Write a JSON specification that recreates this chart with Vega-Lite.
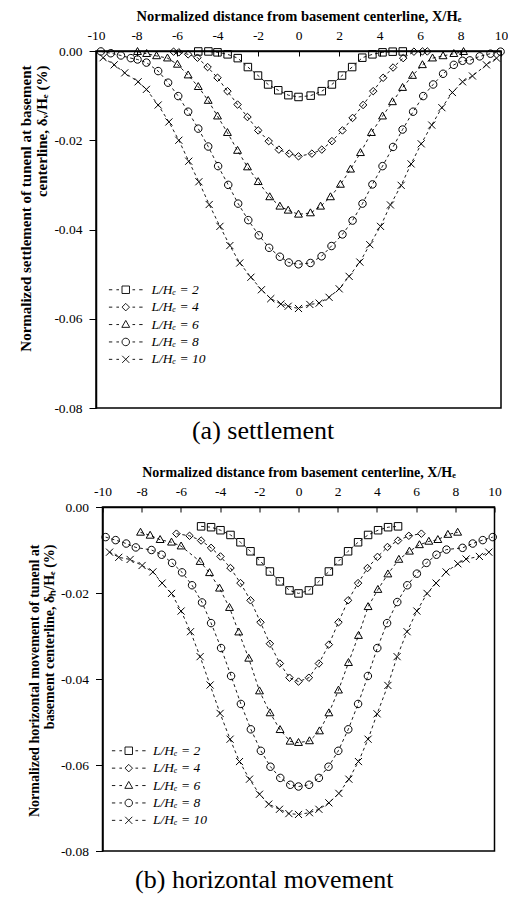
{
  "$schema": "https://vega.github.io/schema/vega-lite/v6.json",
  "background": "white",
  "padding": {"left": 17, "top": 7, "right": 0, "bottom": 0},
  "config": {
    "font": "Liberation Serif",
    "view": {"stroke": "black", "strokeWidth": 1.5},
    "axis": {"grid": false, "domainColor": "black", "domainWidth": 1.5, "tickColor": "black", "tickWidth": 1, "labelColor": "black", "titleColor": "black", "labelFont": "Liberation Serif", "titleFont": "Liberation Serif", "labelFontSize": 13.5, "titleFontSize": 13, "titleFontWeight": "bold"},
    "title": {"font": "Liberation Serif", "fontSize": 26, "fontWeight": "normal", "color": "black"}
  },
  "bounds": "flush",
  "center": true,
  "spacing": 99,
  "resolve": {"scale": {"x": "independent", "y": "independent", "shape": "independent"}, "legend": {"shape": "independent"}},
  "vconcat": [
    {
      "width": 405,
      "height": 357,
      "title": {"text": "(a) settlement", "orient": "bottom", "anchor": "middle", "frame": "bounds", "offset": 3},
      "data": {"values": [
        {"s":"2","x":-4.95,"y":-0.0001},{"s":"2","x":-4.45,"y":-0.0001},{"s":"2","x":-4.0,"y":-0.0003},{"s":"2","x":-3.5,"y":-0.00075},{"s":"2","x":-3.0,"y":-0.0016},{"s":"2","x":-2.5,"y":-0.0036},{"s":"2","x":-2.0,"y":-0.0055},{"s":"2","x":-1.5,"y":-0.0075},{"s":"2","x":-1.0,"y":-0.0088},{"s":"2","x":-0.5,"y":-0.0099},{"s":"2","x":0,"y":-0.0103},{"s":"2","x":0.6,"y":-0.01},{"s":"2","x":1.15,"y":-0.009},{"s":"2","x":1.65,"y":-0.0075},{"s":"2","x":2.15,"y":-0.0055},{"s":"2","x":2.65,"y":-0.0036},{"s":"2","x":3.15,"y":-0.0015},{"s":"2","x":3.65,"y":-0.00075},{"s":"2","x":4.15,"y":-0.0003},{"s":"2","x":4.65,"y":-0.00015},{"s":"2","x":5.15,"y":-0.0001},
        {"s":"4","x":-6.17,"y":-0.00015},{"s":"4","x":-5.91,"y":-0.0003},{"s":"4","x":-5.45,"y":-0.00075},{"s":"4","x":-4.99,"y":-0.0015},{"s":"4","x":-4.49,"y":-0.0036},{"s":"4","x":-4.0,"y":-0.006},{"s":"4","x":-3.51,"y":-0.009},{"s":"4","x":-3.01,"y":-0.012},{"s":"4","x":-2.52,"y":-0.0148},{"s":"4","x":-1.99,"y":-0.0178},{"s":"4","x":-1.47,"y":-0.0202},{"s":"4","x":-0.97,"y":-0.0221},{"s":"4","x":-0.46,"y":-0.023},{"s":"4","x":0,"y":-0.0236},{"s":"4","x":0.66,"y":-0.023},{"s":"4","x":1.15,"y":-0.0221},{"s":"4","x":1.65,"y":-0.0202},{"s":"4","x":2.17,"y":-0.0178},{"s":"4","x":2.67,"y":-0.015},{"s":"4","x":3.19,"y":-0.0121},{"s":"4","x":3.69,"y":-0.009},{"s":"4","x":4.18,"y":-0.006},{"s":"4","x":4.67,"y":-0.0037},{"s":"4","x":5.17,"y":-0.0016},{"s":"4","x":5.7,"y":-0.00015},{"s":"4","x":6.12,"y":-0.0001},{"s":"4","x":6.36,"y":-0.0001},
        {"s":"6","x":-7.95,"y":-0.00015},{"s":"6","x":-7.5,"y":-0.0006},{"s":"6","x":-7.01,"y":-0.0011},{"s":"6","x":-6.47,"y":-0.0016},{"s":"6","x":-5.98,"y":-0.003},{"s":"6","x":-5.45,"y":-0.0054},{"s":"6","x":-4.95,"y":-0.008},{"s":"6","x":-4.46,"y":-0.0111},{"s":"6","x":-4.0,"y":-0.0146},{"s":"6","x":-3.51,"y":-0.0183},{"s":"6","x":-3.01,"y":-0.0223},{"s":"6","x":-2.52,"y":-0.026},{"s":"6","x":-1.99,"y":-0.0293},{"s":"6","x":-1.42,"y":-0.0327},{"s":"6","x":-0.92,"y":-0.0348},{"s":"6","x":-0.51,"y":-0.0357},{"s":"6","x":0,"y":-0.0366},{"s":"6","x":0.59,"y":-0.0363},{"s":"6","x":1.09,"y":-0.0348},{"s":"6","x":1.58,"y":-0.0327},{"s":"6","x":2.07,"y":-0.0299},{"s":"6","x":2.57,"y":-0.0265},{"s":"6","x":3.06,"y":-0.0228},{"s":"6","x":3.6,"y":-0.0183},{"s":"6","x":4.15,"y":-0.0146},{"s":"6","x":4.64,"y":-0.0114},{"s":"6","x":5.14,"y":-0.0082},{"s":"6","x":5.63,"y":-0.0055},{"s":"6","x":6.12,"y":-0.0031},{"s":"6","x":6.62,"y":-0.0016},{"s":"6","x":7.14,"y":-0.0011},{"s":"6","x":7.67,"y":-0.0006},{"s":"6","x":8.15,"y":-0.00015},
        {"s":"8","x":-9.76,"y":-0.0001},{"s":"8","x":-9.27,"y":-0.0005},{"s":"8","x":-8.77,"y":-0.001},{"s":"8","x":-8.28,"y":-0.0016},{"s":"8","x":-7.95,"y":-0.0019},{"s":"8","x":-7.51,"y":-0.0026},{"s":"8","x":-6.93,"y":-0.0045},{"s":"8","x":-6.44,"y":-0.0071},{"s":"8","x":-5.94,"y":-0.0101},{"s":"8","x":-5.45,"y":-0.0136},{"s":"8","x":-4.95,"y":-0.0174},{"s":"8","x":-4.46,"y":-0.0214},{"s":"8","x":-3.97,"y":-0.0258},{"s":"8","x":-3.47,"y":-0.03},{"s":"8","x":-2.98,"y":-0.0342},{"s":"8","x":-2.48,"y":-0.0379},{"s":"8","x":-1.96,"y":-0.0413},{"s":"8","x":-1.45,"y":-0.0441},{"s":"8","x":-0.92,"y":-0.0461},{"s":"8","x":-0.48,"y":-0.0474},{"s":"8","x":0,"y":-0.0478},{"s":"8","x":0.59,"y":-0.0475},{"s":"8","x":1.14,"y":-0.046},{"s":"8","x":1.63,"y":-0.0437},{"s":"8","x":2.17,"y":-0.0411},{"s":"8","x":2.67,"y":-0.038},{"s":"8","x":3.16,"y":-0.0342},{"s":"8","x":3.65,"y":-0.0299},{"s":"8","x":4.15,"y":-0.0258},{"s":"8","x":4.67,"y":-0.0215},{"s":"8","x":5.14,"y":-0.0176},{"s":"8","x":5.66,"y":-0.0136},{"s":"8","x":6.16,"y":-0.0101},{"s":"8","x":6.65,"y":-0.0075},{"s":"8","x":7.14,"y":-0.0051},{"s":"8","x":7.67,"y":-0.0031},{"s":"8","x":8.1,"y":-0.0022},{"s":"8","x":8.46,"y":-0.0021},{"s":"8","x":8.95,"y":-0.0012},{"s":"8","x":9.48,"y":-0.0006},{"s":"8","x":9.98,"y":-0.00015},
        {"s":"10","x":-9.65,"y":-0.0015},{"s":"10","x":-9.1,"y":-0.0031},{"s":"10","x":-8.58,"y":-0.0049},{"s":"10","x":-7.92,"y":-0.0069},{"s":"10","x":-7.51,"y":-0.0086},{"s":"10","x":-6.93,"y":-0.0121},{"s":"10","x":-6.4,"y":-0.0159},{"s":"10","x":-5.91,"y":-0.02},{"s":"10","x":-5.42,"y":-0.0247},{"s":"10","x":-4.92,"y":-0.0293},{"s":"10","x":-4.41,"y":-0.0344},{"s":"10","x":-3.88,"y":-0.0393},{"s":"10","x":-3.39,"y":-0.0436},{"s":"10","x":-2.9,"y":-0.0475},{"s":"10","x":-2.35,"y":-0.0507},{"s":"10","x":-1.83,"y":-0.0535},{"s":"10","x":-1.37,"y":-0.0555},{"s":"10","x":-0.87,"y":-0.0567},{"s":"10","x":-0.51,"y":-0.0572},{"s":"10","x":0,"y":-0.0577},{"s":"10","x":0.56,"y":-0.0568},{"s":"10","x":1.02,"y":-0.0565},{"s":"10","x":1.51,"y":-0.0552},{"s":"10","x":2.01,"y":-0.0533},{"s":"10","x":2.5,"y":-0.0505},{"s":"10","x":3.03,"y":-0.0473},{"s":"10","x":3.52,"y":-0.0434},{"s":"10","x":4.05,"y":-0.0393},{"s":"10","x":4.54,"y":-0.0345},{"s":"10","x":5.07,"y":-0.0301},{"s":"10","x":5.56,"y":-0.0253},{"s":"10","x":6.06,"y":-0.0208},{"s":"10","x":6.58,"y":-0.0166},{"s":"10","x":7.08,"y":-0.0127},{"s":"10","x":7.6,"y":-0.0093},{"s":"10","x":8.1,"y":-0.0069},{"s":"10","x":8.59,"y":-0.0056},{"s":"10","x":9.28,"y":-0.0031},{"s":"10","x":9.78,"y":-0.0016}
      ]},
      "encoding": {
        "x": {"field": "x", "type": "quantitative", "scale": {"domain": [-10, 10], "nice": false, "zero": false},
              "axis": {"orient": "top", "values": [-10,-8,-6,-4,-2,0,2,4,6,8,10], "labelExpr": "'' + datum.value", "labelFlush": false, "labelOverlap": false, "tickSize": -5, "labelPadding": 14, "titlePadding": 5, "titleFontSize": 14.5, "title": "Normalized distance from basement centerline, X/Hₑ"}},
        "y": {"field": "y", "type": "quantitative", "scale": {"domain": [-0.08, 0], "nice": false, "zero": false},
              "axis": {"values": [0,-0.02,-0.04,-0.06,-0.08], "labelExpr": "replace(format(datum.value, '.2f'), '\u2212', '-')", "tickSize": 7, "labelPadding": 7, "titlePadding": 4, "titleAlign": "right", "titleAngle": 270, "titleY": 14, "titleFontSize": 15, "titleLineHeight": 16.5, "title": ["Normalized settlement of tunenl at basement", "centerline, δᵥ/Hₑ (%)"]}}
      },
      "layer": [
        {"mark": {"type": "line", "color": "black", "strokeWidth": 0.9, "strokeDash": [3, 3]}, "encoding": {"detail": {"field": "s"}}},
        {"mark": {"type": "point", "filled": false, "color": "black", "opacity": 1, "strokeWidth": 1, "size": 56},
         "encoding": {"shape": {"field": "s", "type": "nominal", "legend": null,
           "scale": {"domain": ["2","4","6","8","10"], "range": ["M-1,-1H1V1H-1Z", "M0,-1L1,0L0,1L-1,0Z", "M0,-1.1L1.05,0.75L-1.05,0.75Z", "M-1,0A1,1 0 1,1 1,0A1,1 0 1,1 -1,0Z", "M-0.95,-0.95L0.95,0.95M-0.95,0.95L0.95,-0.95"]}}}},
        {"transform": [{"filter": "false"}],
         "mark": {"type": "point", "filled": false, "color": "black", "opacity": 1, "strokeWidth": 1, "size": 56},
         "encoding": {"shape": {"field": "s", "type": "nominal",
           "scale": {"domain": ["2","4","6","8","10"], "range": ["M-4.5,0H-3.6M-2.5,0H-1.8M1.8,0H2.5M3.6,0H4.5M-1,-1H1V1H-1Z", "M-4.5,0H-3.6M-2.5,0H-1.8M1.8,0H2.5M3.6,0H4.5M0,-1L1,0L0,1L-1,0Z", "M-4.5,0H-3.6M-2.5,0H-1.8M1.8,0H2.5M3.6,0H4.5M0,-1.1L1.05,0.75L-1.05,0.75Z", "M-4.5,0H-3.6M-2.5,0H-1.8M1.8,0H2.5M3.6,0H4.5M-1,0A1,1 0 1,1 1,0A1,1 0 1,1 -1,0Z", "M-4.5,0H-3.6M-2.5,0H-1.8M1.8,0H2.5M3.6,0H4.5M-0.95,-0.95L0.95,0.95M-0.95,0.95L0.95,-0.95"]},
           "legend": {"orient": "none", "legendX": 23, "legendY": 232, "title": null, "labelExpr": "'L/Hₑ = ' + datum.label", "labelFont": "Liberation Serif", "labelFontSize": 13.5, "labelFontStyle": "italic", "labelColor": "black", "labelOffset": 19, "rowPadding": 2.4, "symbolSize": 56, "symbolStrokeWidth": 0.9, "symbolStrokeColor": "black", "symbolFillColor": "transparent"}}}}
      ],
      "resolve": {"scale": {"shape": "independent"}}
    },
    {
      "width": 392,
      "height": 344,
      "title": {"text": "(b) horizontal movement", "orient": "bottom", "anchor": "middle", "frame": "bounds", "offset": 9},
      "data": {"values": [
        {"s":"2","x":-4.97,"y":-0.0045},{"s":"2","x":-4.46,"y":-0.0047},{"s":"2","x":-3.98,"y":-0.0054},{"s":"2","x":-3.47,"y":-0.0065},{"s":"2","x":-2.96,"y":-0.0082},{"s":"2","x":-2.45,"y":-0.0103},{"s":"2","x":-1.94,"y":-0.0126},{"s":"2","x":-1.46,"y":-0.015},{"s":"2","x":-0.95,"y":-0.0173},{"s":"2","x":-0.46,"y":-0.0194},{"s":"2","x":0,"y":-0.0201},{"s":"2","x":0.53,"y":-0.0194},{"s":"2","x":1.04,"y":-0.0173},{"s":"2","x":1.55,"y":-0.015},{"s":"2","x":2.04,"y":-0.0126},{"s":"2","x":2.53,"y":-0.0103},{"s":"2","x":3.04,"y":-0.0082},{"s":"2","x":3.55,"y":-0.0065},{"s":"2","x":4.06,"y":-0.0054},{"s":"2","x":4.57,"y":-0.0047},{"s":"2","x":5.08,"y":-0.0045},
        {"s":"4","x":-6.23,"y":-0.0062},{"s":"4","x":-5.56,"y":-0.0067},{"s":"4","x":-4.97,"y":-0.0078},{"s":"4","x":-4.46,"y":-0.0095},{"s":"4","x":-3.98,"y":-0.0115},{"s":"4","x":-3.47,"y":-0.0142},{"s":"4","x":-2.96,"y":-0.0177},{"s":"4","x":-2.45,"y":-0.0217},{"s":"4","x":-1.94,"y":-0.0268},{"s":"4","x":-1.46,"y":-0.0318},{"s":"4","x":-0.95,"y":-0.0364},{"s":"4","x":-0.46,"y":-0.0397},{"s":"4","x":0,"y":-0.0406},{"s":"4","x":0.53,"y":-0.0397},{"s":"4","x":1.04,"y":-0.0364},{"s":"4","x":1.55,"y":-0.032},{"s":"4","x":2.04,"y":-0.0268},{"s":"4","x":2.53,"y":-0.0217},{"s":"4","x":3.04,"y":-0.0177},{"s":"4","x":3.52,"y":-0.0142},{"s":"4","x":4.03,"y":-0.0116},{"s":"4","x":4.54,"y":-0.0093},{"s":"4","x":5.08,"y":-0.0078},{"s":"4","x":5.63,"y":-0.0067},{"s":"4","x":6.27,"y":-0.0062},
        {"s":"6","x":-8.06,"y":-0.0059},{"s":"6","x":-7.57,"y":-0.0066},{"s":"6","x":-7.06,"y":-0.0076},{"s":"6","x":-6.48,"y":-0.0082},{"s":"6","x":-5.99,"y":-0.0091},{"s":"6","x":-5.02,"y":-0.0127},{"s":"6","x":-4.54,"y":-0.0153},{"s":"6","x":-4.03,"y":-0.0189},{"s":"6","x":-3.52,"y":-0.0234},{"s":"6","x":-3.05,"y":-0.0291},{"s":"6","x":-2.54,"y":-0.0352},{"s":"6","x":-1.99,"y":-0.0428},{"s":"6","x":-1.45,"y":-0.0479},{"s":"6","x":-0.94,"y":-0.0518},{"s":"6","x":-0.43,"y":-0.0545},{"s":"6","x":0,"y":-0.0548},{"s":"6","x":0.56,"y":-0.0544},{"s":"6","x":1.07,"y":-0.0521},{"s":"6","x":1.55,"y":-0.0479},{"s":"6","x":2.04,"y":-0.0426},{"s":"6","x":2.55,"y":-0.0362},{"s":"6","x":3.06,"y":-0.0299},{"s":"6","x":3.55,"y":-0.0232},{"s":"6","x":4.05,"y":-0.0192},{"s":"6","x":4.56,"y":-0.0156},{"s":"6","x":5.12,"y":-0.0122},{"s":"6","x":5.66,"y":-0.0103},{"s":"6","x":6.17,"y":-0.0088},{"s":"6","x":6.65,"y":-0.008},{"s":"6","x":7.11,"y":-0.0076},{"s":"6","x":7.62,"y":-0.0064},{"s":"6","x":8.12,"y":-0.0059},
        {"s":"8","x":-9.84,"y":-0.007},{"s":"8","x":-9.33,"y":-0.0077},{"s":"8","x":-8.79,"y":-0.0085},{"s":"8","x":-8.3,"y":-0.0094},{"s":"8","x":-7.5,"y":-0.01},{"s":"8","x":-6.98,"y":-0.0111},{"s":"8","x":-6.45,"y":-0.013},{"s":"8","x":-5.94,"y":-0.0152},{"s":"8","x":-5.43,"y":-0.0182},{"s":"8","x":-4.92,"y":-0.0222},{"s":"8","x":-4.46,"y":-0.027},{"s":"8","x":-3.95,"y":-0.0328},{"s":"8","x":-3.44,"y":-0.0393},{"s":"8","x":-2.94,"y":-0.0458},{"s":"8","x":-2.43,"y":-0.0517},{"s":"8","x":-1.92,"y":-0.0567},{"s":"8","x":-1.43,"y":-0.0604},{"s":"8","x":-0.93,"y":-0.063},{"s":"8","x":-0.42,"y":-0.0646},{"s":"8","x":0,"y":-0.065},{"s":"8","x":0.54,"y":-0.0646},{"s":"8","x":1.04,"y":-0.063},{"s":"8","x":1.53,"y":-0.0604},{"s":"8","x":2.03,"y":-0.0567},{"s":"8","x":2.54,"y":-0.0517},{"s":"8","x":3.04,"y":-0.0458},{"s":"8","x":3.54,"y":-0.0393},{"s":"8","x":4.02,"y":-0.0328},{"s":"8","x":4.52,"y":-0.027},{"s":"8","x":5.04,"y":-0.0221},{"s":"8","x":5.55,"y":-0.0182},{"s":"8","x":6.04,"y":-0.0155},{"s":"8","x":6.53,"y":-0.013},{"s":"8","x":7.04,"y":-0.0111},{"s":"8","x":7.55,"y":-0.0099},{"s":"8","x":8.37,"y":-0.0095},{"s":"8","x":8.89,"y":-0.0085},{"s":"8","x":9.4,"y":-0.0077},{"s":"8","x":9.91,"y":-0.007},
        {"s":"10","x":-9.64,"y":-0.0105},{"s":"10","x":-9.17,"y":-0.0117},{"s":"10","x":-8.59,"y":-0.0122},{"s":"10","x":-7.98,"y":-0.0136},{"s":"10","x":-7.43,"y":-0.0151},{"s":"10","x":-6.96,"y":-0.0177},{"s":"10","x":-6.48,"y":-0.0201},{"s":"10","x":-5.99,"y":-0.0242},{"s":"10","x":-5.51,"y":-0.029},{"s":"10","x":-5.02,"y":-0.0348},{"s":"10","x":-4.51,"y":-0.0414},{"s":"10","x":-4.0,"y":-0.048},{"s":"10","x":-3.49,"y":-0.054},{"s":"10","x":-3.01,"y":-0.0592},{"s":"10","x":-2.5,"y":-0.0633},{"s":"10","x":-1.99,"y":-0.0668},{"s":"10","x":-1.52,"y":-0.0691},{"s":"10","x":-0.97,"y":-0.0703},{"s":"10","x":-0.49,"y":-0.0713},{"s":"10","x":0,"y":-0.0715},{"s":"10","x":0.56,"y":-0.0711},{"s":"10","x":1.04,"y":-0.0703},{"s":"10","x":1.55,"y":-0.0688},{"s":"10","x":2.06,"y":-0.0666},{"s":"10","x":2.57,"y":-0.0633},{"s":"10","x":3.06,"y":-0.0592},{"s":"10","x":3.55,"y":-0.054},{"s":"10","x":4.01,"y":-0.0481},{"s":"10","x":4.56,"y":-0.0415},{"s":"10","x":5.03,"y":-0.0348},{"s":"10","x":5.54,"y":-0.029},{"s":"10","x":6.04,"y":-0.0242},{"s":"10","x":6.56,"y":-0.0201},{"s":"10","x":7.02,"y":-0.0177},{"s":"10","x":7.53,"y":-0.0151},{"s":"10","x":8.13,"y":-0.0132},{"s":"10","x":8.55,"y":-0.0121},{"s":"10","x":9.23,"y":-0.0115},{"s":"10","x":9.71,"y":-0.0105}
      ]},
      "encoding": {
        "x": {"field": "x", "type": "quantitative", "scale": {"domain": [-10, 10], "nice": false, "zero": false},
              "axis": {"orient": "top", "values": [-10,-8,-6,-4,-2,0,2,4,6,8,10], "labelExpr": "'' + datum.value", "labelFlush": false, "labelOverlap": false, "tickSize": -5, "labelPadding": 14, "titlePadding": 5, "titleFontSize": 14, "title": "Normalized distance from basement centerline, X/Hₑ"}},
        "y": {"field": "y", "type": "quantitative", "scale": {"domain": [-0.08, 0], "nice": false, "zero": false},
              "axis": {"values": [0,-0.02,-0.04,-0.06,-0.08], "labelExpr": "replace(format(datum.value, '.2f'), '\u2212', '-')", "tickSize": 7, "labelPadding": 7, "titlePadding": 4, "titleAlign": "right", "titleAngle": 270, "titleY": 37, "titleFontSize": 14, "titleLineHeight": 15, "title": ["Normalized horizontal movement of tunenl at", "basement centerline, δₕ/Hₑ (%)"]}}
      },
      "layer": [
        {"mark": {"type": "line", "color": "black", "strokeWidth": 0.9, "strokeDash": [3, 3]}, "encoding": {"detail": {"field": "s"}}},
        {"mark": {"type": "point", "filled": false, "color": "black", "opacity": 1, "strokeWidth": 1, "size": 56},
         "encoding": {"shape": {"field": "s", "type": "nominal", "legend": null,
           "scale": {"domain": ["2","4","6","8","10"], "range": ["M-1,-1H1V1H-1Z", "M0,-1L1,0L0,1L-1,0Z", "M0,-1.1L1.05,0.75L-1.05,0.75Z", "M-1,0A1,1 0 1,1 1,0A1,1 0 1,1 -1,0Z", "M-0.95,-0.95L0.95,0.95M-0.95,0.95L0.95,-0.95"]}}}},
        {"transform": [{"filter": "false"}],
         "mark": {"type": "point", "filled": false, "color": "black", "opacity": 1, "strokeWidth": 1, "size": 56},
         "encoding": {"shape": {"field": "s", "type": "nominal",
           "scale": {"domain": ["2","4","6","8","10"], "range": ["M-4.5,0H-3.6M-2.5,0H-1.8M1.8,0H2.5M3.6,0H4.5M-1,-1H1V1H-1Z", "M-4.5,0H-3.6M-2.5,0H-1.8M1.8,0H2.5M3.6,0H4.5M0,-1L1,0L0,1L-1,0Z", "M-4.5,0H-3.6M-2.5,0H-1.8M1.8,0H2.5M3.6,0H4.5M0,-1.1L1.05,0.75L-1.05,0.75Z", "M-4.5,0H-3.6M-2.5,0H-1.8M1.8,0H2.5M3.6,0H4.5M-1,0A1,1 0 1,1 1,0A1,1 0 1,1 -1,0Z", "M-4.5,0H-3.6M-2.5,0H-1.8M1.8,0H2.5M3.6,0H4.5M-0.95,-0.95L0.95,0.95M-0.95,0.95L0.95,-0.95"]},
           "legend": {"orient": "none", "legendX": 19.5, "legendY": 237, "title": null, "labelExpr": "'L/Hₑ = ' + datum.label", "labelFont": "Liberation Serif", "labelFontSize": 13.5, "labelFontStyle": "italic", "labelColor": "black", "labelOffset": 17.5, "rowPadding": 2.4, "symbolSize": 56, "symbolStrokeWidth": 0.9, "symbolStrokeColor": "black", "symbolFillColor": "transparent"}}}}
      ],
      "resolve": {"scale": {"shape": "independent"}}
    }
  ]
}
